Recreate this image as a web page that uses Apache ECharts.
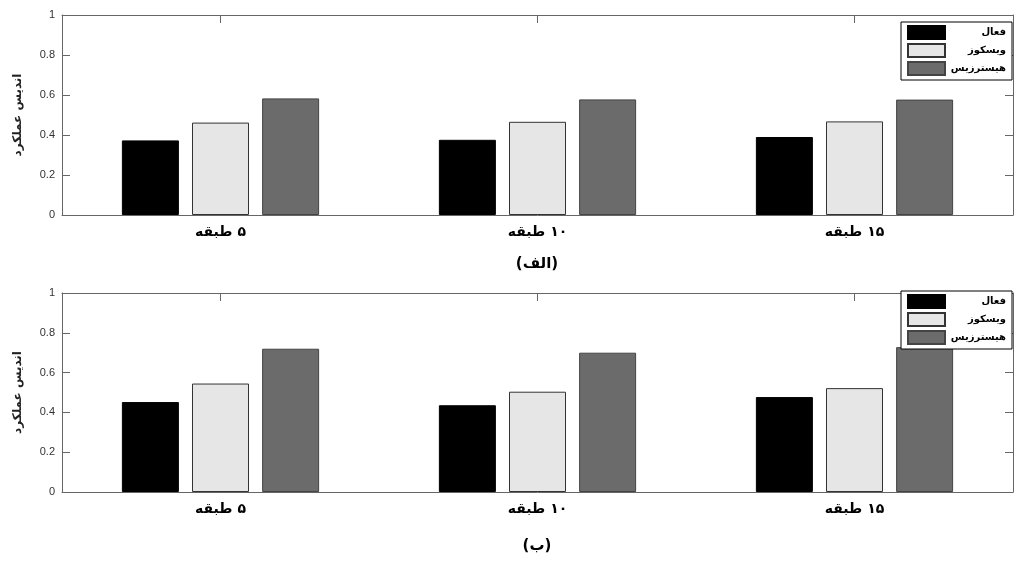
<!DOCTYPE html>
<html>
<head>
<meta charset="utf-8">
<script src="https://cdn.jsdelivr.net/npm/echarts@6/dist/echarts.min.js"></script>
<style>
  html, body { margin: 0; padding: 0; background: #fff; }
  #chart { width: 1024px; height: 574px; }
</style>
</head>
<body>
<div id="chart"></div>
<script>
// داده‌ها
const categories = ['۵ طبقه', '۱۰ طبقه', '۱۵ طبقه'];
const seriesNames = ['فعال', 'ویسکوز', 'هیسترزیس'];
const activeA = [0.373, 0.376, 0.39];
const viscousA = [0.462, 0.466, 0.468];
const hysteresisA = [0.583, 0.578, 0.577];
const activeB = [0.452, 0.436, 0.477];
const viscousB = [0.545, 0.504, 0.522];
const hysteresisB = [0.72, 0.7, 0.728];
const yTicks = [0, 0.2, 0.4, 0.6, 0.8, 1];
const captions = ['(الف)', '(ب)'];
const yName = 'اندیس عملکرد';

const faFont = 'DejaVu Sans';
const axisColor = '#666';

let myChart = echarts.init(document.getElementById('chart'));

let barStyles = [
  { color: '#000000', borderColor: '#000000', borderWidth: 1 },
  { color: '#e6e6e6', borderColor: '#333333', borderWidth: 1 },
  { color: '#6b6b6b', borderColor: '#444444', borderWidth: 1 },
];

let grids = [
  { left: 62, right: 11, top: 15, height: 200 },
  { left: 62, right: 11, top: 293, height: 199 },
];

// عدد در سمت راست کلمه (راست به چپ)
let rtlLabel = (v) => {
  let parts = v.split(' ');
  return '{w|' + parts.slice(1).join(' ') + ' }{n|' + parts[0] + '}';
};
let labelText = { fontFamily: faFont, fontSize: 14, fontWeight: 'bold', color: '#000' };

let xAxes = [];
let yAxes = [];
grids.forEach((g, i) => {
  // پایین با برچسب
  xAxes.push({
    type: 'category',
    gridIndex: i,
    data: categories,
    position: 'bottom',
    axisLine: { lineStyle: { color: axisColor } },
    axisTick: { show: false },
    axisLabel: {
      margin: 10,
      formatter: rtlLabel,
      rich: { w: labelText, n: labelText },
    },
  });
  // بالا فقط تیک
  xAxes.push({
    type: 'category',
    gridIndex: i,
    data: categories,
    position: 'top',
    axisLine: { onZero: false, lineStyle: { color: axisColor } },
    axisTick: { show: true, inside: true, alignWithLabel: true, length: 8, lineStyle: { color: axisColor } },
    axisLabel: { show: false },
  });
  yAxes.push({
    type: 'value',
    gridIndex: i,
    min: yTicks[0],
    max: yTicks[yTicks.length - 1],
    interval: yTicks[1] - yTicks[0],
    name: yName,
    nameLocation: 'middle',
    nameRotate: 90,
    nameGap: 38,
    nameTextStyle: { fontFamily: faFont, fontSize: 12, fontWeight: 'bold', color: '#222' },
    splitLine: { show: false },
    axisLine: { show: true, lineStyle: { color: axisColor } },
    axisTick: { show: true, inside: true, length: 8, lineStyle: { color: axisColor } },
    axisLabel: { margin: 7, fontFamily: 'Liberation Sans', fontSize: 11, color: '#333' },
  });
  yAxes.push({
    type: 'value',
    gridIndex: i,
    position: 'right',
    min: yTicks[0],
    max: yTicks[yTicks.length - 1],
    interval: yTicks[1] - yTicks[0],
    splitLine: { show: false },
    axisLine: { show: true, onZero: false, lineStyle: { color: axisColor } },
    axisTick: { show: true, inside: true, length: 8, lineStyle: { color: axisColor } },
    axisLabel: { show: false },
  });
});

let panelData = [
  [activeA, viscousA, hysteresisA],
  [activeB, viscousB, hysteresisB],
];

let series = [];
panelData.forEach((set, i) => {
  set.forEach((vals, k) => {
    series.push({
      name: seriesNames[k],
      type: 'bar',
      xAxisIndex: i * 2,
      yAxisIndex: i * 2,
      data: vals,
      barWidth: 57,
      barGap: '23%',
      itemStyle: barStyles[k],
      emphasis: { disabled: true },
    });
  });
});

let legendBase = {
  orient: 'vertical',
  left: 901,
  data: seriesNames,
  icon: 'rect',
  itemWidth: 37,
  itemHeight: 13,
  itemGap: 3,
  padding: [3, 6, 4, 6],
  borderColor: '#000',
  borderWidth: 1,
  backgroundColor: '#fff',
  selectedMode: false,
  formatter: (name) => '{t|' + name + '}',
  textStyle: {
    rich: {
      t: { fontFamily: faFont, fontSize: 10, fontWeight: 'bold', color: '#000', width: 56, lineHeight: 13, align: 'right' },
    },
  },
};

let option = {
  animation: false,
  backgroundColor: '#fff',
  grid: grids,
  xAxis: xAxes,
  yAxis: yAxes,
  series: series,
  legend: [
    Object.assign({}, legendBase, { top: 22 }),
    Object.assign({}, legendBase, { top: 291 }),
  ],
  graphic: captions.map((c, i) => ({
    type: 'text',
    x: 537,
    y: i === 0 ? 264 : 546,
    style: {
      text: c,
      fontFamily: faFont,
      fontSize: 15,
      fontWeight: 'bold',
      fill: '#000',
      textAlign: 'center',
      textVerticalAlign: 'middle',
    },
  })),
};

myChart.setOption(option, true);

window.addEventListener('resize', () => {
  myChart.resize();
});
</script>
</body>
</html>
